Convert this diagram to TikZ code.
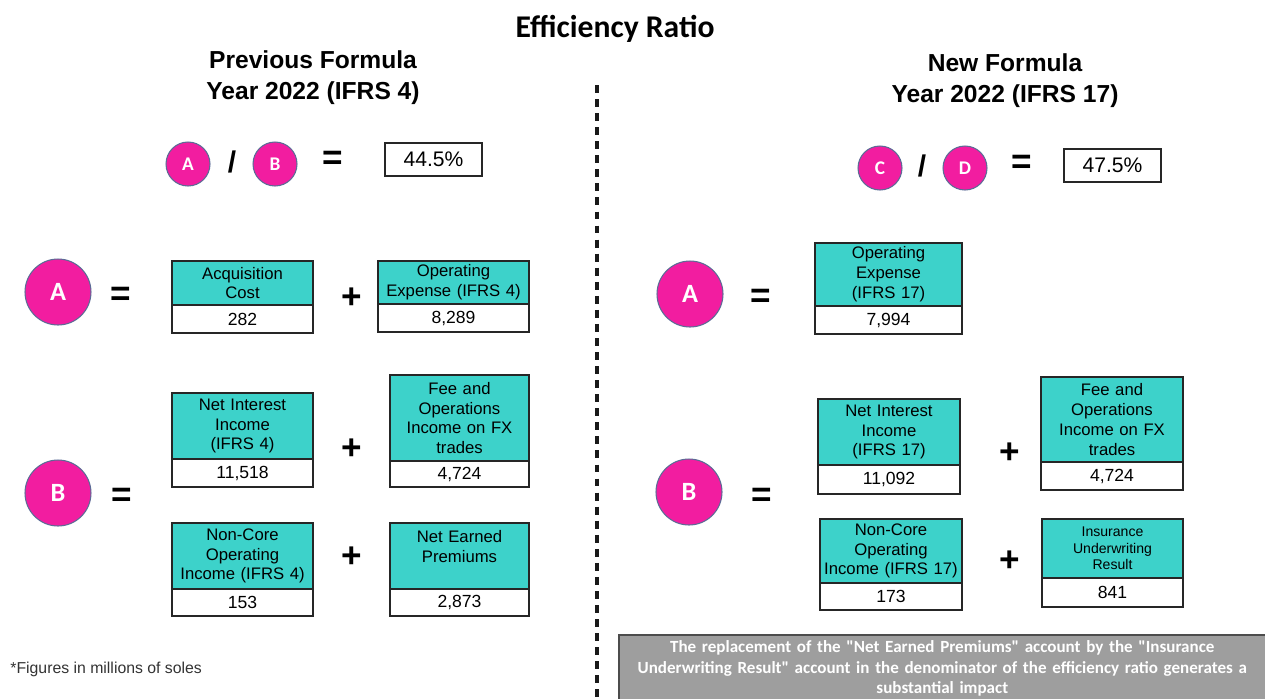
\documentclass[tikz,border=0pt]{standalone}
\usepackage{fontspec}
\setmainfont{Liberation Sans}
\newfontfamily\calibfont{Carlito}
\usetikzlibrary{positioning}

\definecolor{termTeal}{HTML}{3DD2CA}
\definecolor{letterPink}{HTML}{F21DA0}
\definecolor{rimBlue}{HTML}{5B6C96}
\definecolor{noteGray}{HTML}{9E9E9E}

\begin{document}
\begin{tikzpicture}[
    x=0.02cm, y=-0.02cm,
    % Style for the small pink letters in the ratio line
    letterNode/.style={
        circle,
        fill=letterPink,
        draw=rimBlue,
        line width=0.6pt,
        inner sep=0pt,
        minimum size=0.88cm,
        text=white,
        font=\calibfont\bfseries\fontsize{11}{11}\selectfont
    },
    % Style for the large pink letters in front of each sum
    bigLetter/.style={
        letterNode,
        minimum size=1.32cm,
        font=\calibfont\bfseries\fontsize{15}{15}\selectfont
    },
    % Style for the teal account headers
    termBox/.style={
        rectangle,
        draw=black!85,
        line width=1.1pt,
        fill=termTeal,
        anchor=north,
        align=center,
        inner sep=1pt,
        outer sep=0pt,
        font=\fontsize{9.5}{11.3}\selectfont
    },
    % Style for the white value cells
    valueBox/.style={
        rectangle,
        draw=black!85,
        line width=1.1pt,
        fill=white,
        inner sep=0pt,
        outer sep=0pt,
        font=\fontsize{10}{12}\selectfont
    },
    % Style for the result of the ratio
    resultBox/.style={
        rectangle,
        draw=black!85,
        line width=1.1pt,
        minimum width=1.94cm,
        minimum height=0.66cm,
        inner sep=0pt,
        font=\fontsize{12}{14}\selectfont
    },
    % Style for the operator signs
    opSign/.style={
        inner sep=0pt,
        font=\bfseries\fontsize{20}{20}\selectfont
    },
    % Style for the column headings
    headLabel/.style={
        align=center,
        font=\bfseries\fontsize{14}{17.5}\selectfont
    }
]

    \useasboundingbox (0,0) rectangle (1265,698);

    % --- TITLE AND HEADINGS ---
    \node[font=\calibfont\bfseries\fontsize{18}{18}\selectfont] (title) at (615,29) {Efficiency Ratio};
    \node[headLabel] (oldHead) at (313,78) {Previous Formula\\Year 2022 (IFRS 4)};
    \node[headLabel] (newHead) at (1005,81) {New Formula\\Year 2022 (IFRS 17)};

    % --- DIVIDER ---
    \coordinate (divTop) at (597,85);
    \coordinate (divBot) at (597,698);
    \draw[black!90, line width=1.9pt, dash pattern=on 4.5pt off 3.5pt] (divTop) -- (divBot);

    % --- PREVIOUS FORMULA: RATIO ---
    \node[letterNode] (ratioA) at (188,164) {A};
    \node[opSign, font=\bfseries\fontsize{17}{17}\selectfont] (slashOld) at (232,162) {/};
    \node[letterNode] (ratioB) at (275,164) {B};
    \node[opSign] (eqOld) at (333,160) {=};
    \node[resultBox] (resOld) at (433.5,159.5) {44.5\%};

    % --- PREVIOUS FORMULA: A ---
    \node[bigLetter] (oldA) at (58,292) {A};
    \node[opSign] (oldAeq) at (121,296) {=};
    \node[termBox, minimum width=2.82cm, minimum height=0.88cm, text width=2.74cm] (acqCost) at (242.5,261) {Acquisition\\Cost};
    \node[valueBox, minimum width=2.82cm, minimum height=0.56cm, below=0pt of acqCost] (acqCostVal) {282};
    \node[opSign] (oldAplus) at (352,298) {+};
    \node[termBox, minimum width=3.02cm, minimum height=0.86cm, text width=2.96cm] (opExpOld) at (453.5,261) {Operating\\Expense (IFRS 4)};
    \node[valueBox, minimum width=3.02cm, minimum height=0.56cm, below=0pt of opExpOld] (opExpOldVal) {8,289};

    % --- PREVIOUS FORMULA: B ---
    \node[bigLetter] (oldB) at (58,493) {B};
    \node[opSign] (oldBeq) at (122,497) {=};
    \node[termBox, minimum width=2.82cm, minimum height=1.32cm, text width=2.74cm] (niiOld) at (242.5,393) {Net Interest\\Income\\(IFRS 4)};
    \node[valueBox, minimum width=2.82cm, minimum height=0.56cm, below=0pt of niiOld] (niiOldVal) {11,518};
    \node[opSign] (oldBplusA) at (352,449) {+};
    \node[termBox, minimum width=2.78cm, minimum height=1.72cm, text width=2.7cm] (feeOld) at (459.5,375) {Fee and\\Operations\\Income on FX\\trades};
    \node[valueBox, minimum width=2.78cm, minimum height=0.52cm, below=0pt of feeOld] (feeOldVal) {4,724};
    \node[termBox, minimum width=2.82cm, minimum height=1.32cm, text width=2.74cm] (coreOld) at (242.5,523) {Non-Core\\Operating\\Income (IFRS 4)};
    \node[valueBox, minimum width=2.82cm, minimum height=0.54cm, below=0pt of coreOld] (coreOldVal) {153};
    \node[opSign] (oldBplusB) at (352,557) {+};
    \node[termBox, minimum width=2.78cm, minimum height=1.32cm, text width=2.7cm] (nep) at (459.5,523) {Net Earned\\Premiums\\~};
    \node[valueBox, minimum width=2.78cm, minimum height=0.54cm, below=0pt of nep] (nepVal) {2,873};

    % --- FOOTNOTE ---
    \node[anchor=west, inner sep=0pt, text=black!80, font=\fontsize{9}{11}\selectfont] (footNote) at (10,669) {*Figures in millions of soles};

    % --- NEW FORMULA: RATIO ---
    \node[letterNode] (ratioC) at (880,168) {C};
    \node[opSign, font=\bfseries\fontsize{17}{17}\selectfont] (slashNew) at (922,166) {/};
    \node[letterNode] (ratioD) at (965,168) {D};
    \node[opSign] (eqNew) at (1022,164) {=};
    \node[resultBox] (resNew) at (1112.5,165.5) {47.5\%};

    % --- NEW FORMULA: A ---
    \node[bigLetter] (newA) at (690,294) {A};
    \node[opSign] (newAeq) at (761,298) {=};
    \node[termBox, minimum width=2.94cm, minimum height=1.26cm, text width=2.86cm] (opExpNew) at (888.5,243) {Operating\\Expense\\(IFRS 17)};
    \node[valueBox, minimum width=2.94cm, minimum height=0.56cm, below=0pt of opExpNew] (opExpNewVal) {7,994};

    % --- NEW FORMULA: B ---
    \node[bigLetter] (newB) at (689,492) {B};
    \node[opSign] (newBeq) at (762,497) {=};
    \node[termBox, minimum width=2.84cm, minimum height=1.32cm, text width=2.76cm] (niiNew) at (889,399) {Net Interest\\Income\\(IFRS 17)};
    \node[valueBox, minimum width=2.84cm, minimum height=0.58cm, below=0pt of niiNew] (niiNewVal) {11,092};
    \node[opSign] (newBplusA) at (1010,453) {+};
    \node[termBox, minimum width=2.84cm, minimum height=1.7cm, text width=2.76cm] (feeNew) at (1112,377) {Fee and\\Operations\\Income on FX\\trades};
    \node[valueBox, minimum width=2.84cm, minimum height=0.56cm, below=0pt of feeNew] (feeNewVal) {4,724};
    \node[termBox, minimum width=2.84cm, minimum height=1.28cm, text width=2.76cm] (coreNew) at (891,519) {Non-Core\\Operating\\Income (IFRS 17)};
    \node[valueBox, minimum width=2.84cm, minimum height=0.54cm, below=0pt of coreNew] (coreNewVal) {173};
    \node[opSign] (newBplusB) at (1010,561) {+};
    \node[termBox, minimum width=2.82cm, minimum height=1.18cm, text width=2.74cm, font=\fontsize{8}{9.4}\selectfont] (iur) at (1112.5,519) {Insurance\\Underwriting\\Result};
    \node[valueBox, minimum width=2.82cm, minimum height=0.58cm, below=0pt of iur] (iurVal) {841};

    % --- NOTE ON THE IMPACT ---
    \node[rectangle, draw=black!70, line width=1pt, fill=noteGray, anchor=north west,
          minimum width=12.94cm, minimum height=1.34cm, text width=12.8cm, align=center,
          inner sep=0pt, text=white, font=\calibfont\bfseries\fontsize{9.7}{11.8}\selectfont]
          (impactNote) at (618,634)
          {The replacement of the "Net Earned Premiums" account by the "Insurance\\
           Underwriting Result" account in the denominator of the efficiency ratio generates a\\
           substantial impact};

\end{tikzpicture}
\end{document}
